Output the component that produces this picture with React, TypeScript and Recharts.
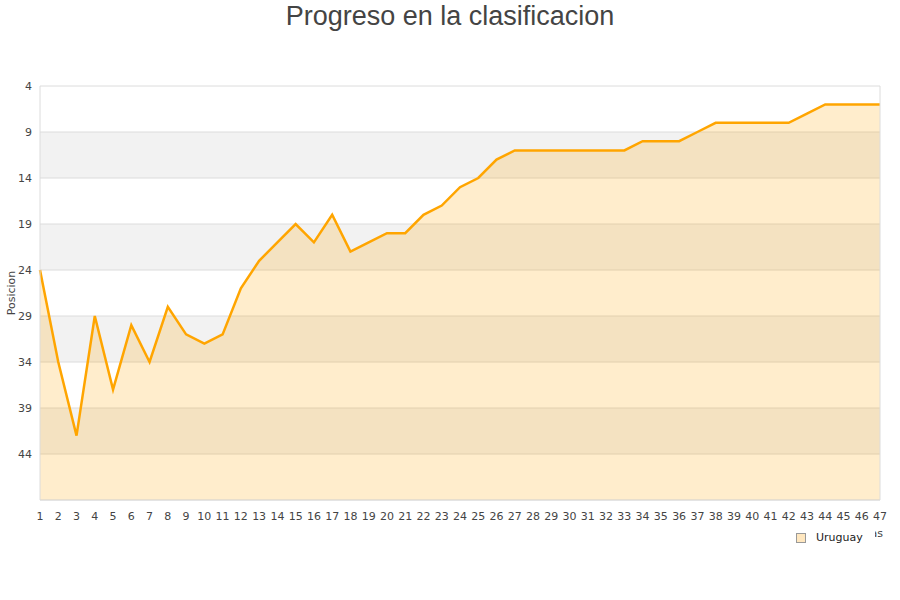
import React from "react";
import { AreaChart, Area, XAxis, YAxis, CartesianGrid, ReferenceLine } from "recharts";

// jornada number on x, classification position on y (1 = top)
const jornadas = [
  1, 2, 3, 4, 5, 6, 7, 8, 9, 10, 11, 12, 13, 14, 15, 16, 17, 18, 19, 20, 21, 22, 23, 24,
  25, 26, 27, 28, 29, 30, 31, 32, 33, 34, 35, 36, 37, 38, 39, 40, 41, 42, 43, 44, 45, 46, 47,
];
const uruguay = [
  24, 34, 42, 29, 37, 30, 34, 28, 31, 32, 31, 26, 23, 21, 19, 21, 18, 22, 21, 20, 20, 18, 17, 15,
  14, 12, 11, 11, 11, 11, 11, 11, 11, 10, 10, 10, 9, 8, 8, 8, 8, 8, 7, 6, 6, 6, 6,
];
const yTicks = [4, 9, 14, 19, 24, 29, 34, 39, 44];

const data = jornadas.map((j, i) => ({ jornada: j, Uruguay: uruguay[i] }));

const font = "'DejaVu Sans', Verdana, sans-serif";

export default function App() {
  return (
    <div style={{ position: "absolute", left: 0, top: 0, width: 900, height: 600, background: "#fff" }}>
      <div style={{ position: "absolute", top: 0, width: 900, textAlign: "center", fontFamily: "'Liberation Sans', Arial, sans-serif", fontSize: 27, color: "#444", lineHeight: "32px" }}>
        Progreso en la clasificacion
      </div>
      <AreaChart width={900} height={600} data={data} margin={{ top: 86, right: 20, bottom: 66, left: 0 }}>
        <CartesianGrid vertical={false} stroke="#dcdcdc" horizontalFill={["#ffffff", "#f2f2f2"]} fillOpacity={1} />
        <XAxis
          dataKey="jornada"
          type="number"
          domain={[1, 47]}
          ticks={jornadas}
          interval={0}
          height={34}
          tickLine={false}
          axisLine={{ stroke: "#dcdcdc" }}
          tick={{ fontSize: 11, fill: "#444", fontFamily: font }}
          tickMargin={6}
          label={{ value: "Jornadas", position: "insideBottomRight", offset: -3, fontSize: 11, fill: "#444", fontFamily: font }}
        />
        <YAxis
          reversed
          domain={[4, 49]}
          ticks={yTicks}
          interval={0}
          width={40}
          tickLine={false}
          axisLine={{ stroke: "#dcdcdc" }}
          tick={{ fontSize: 11, fill: "#444", fontFamily: font }}
          label={{ value: "Posicion", angle: -90, position: "insideLeft", offset: 11, textAnchor: "middle", fontSize: 11, fill: "#444", fontFamily: font }}
        />
        <ReferenceLine x={47} stroke="#dcdcdc" />
        <Area
          type="linear"
          dataKey="Uruguay"
          baseValue={49}
          stroke="#ffa500"
          strokeWidth={2.5}
          fill="#ffa500"
          fillOpacity={0.2}
          dot={false}
          activeDot={false}
          isAnimationActive={false}
        />
      </AreaChart>
      <div style={{ position: "absolute", left: 790, top: 528, background: "#fff", display: "flex", alignItems: "center", fontFamily: font, fontSize: 11, color: "#222", padding: "3px 12px 4px 6px" }}>
        <span style={{ display: "inline-block", width: 8, height: 8, background: "#ffe7bf", border: "1px solid #999", marginRight: 10 }} />
        Uruguay
      </div>
    </div>
  );
}
